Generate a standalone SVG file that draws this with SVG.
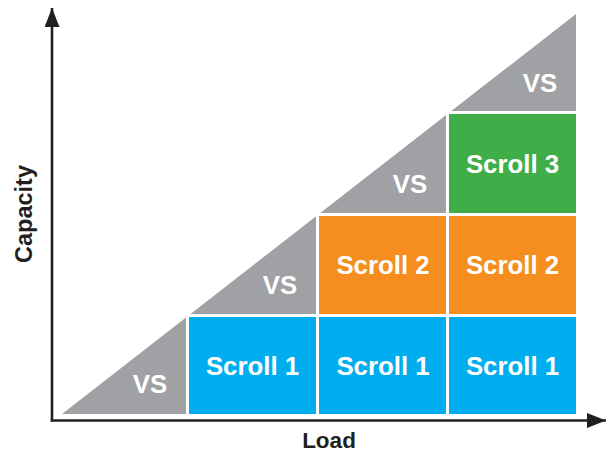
<svg xmlns="http://www.w3.org/2000/svg" width="608" height="454" viewBox="0 0 608 454">
  <style>
    .cell { stroke: #ffffff; stroke-width: 3; }
    .blue { fill: #00aeef; }
    .orange { fill: #f68e1f; }
    .green { fill: #3fae49; }
    .wedge { fill: #a0a1a5; }
    .lbl { font-family: "Liberation Sans", Arial, sans-serif; font-weight: bold; font-size: 25.8px; fill: #ffffff; text-anchor: middle; }
    .axis-lbl { font-family: "Liberation Sans", Arial, sans-serif; font-weight: bold; font-size: 22.5px; fill: #231f20; text-anchor: middle; }
    .axis { stroke: #231f20; stroke-width: 2.6; fill: none; }
  </style>
  <defs>
    <marker id="arrow" markerUnits="userSpaceOnUse" markerWidth="20" markerHeight="16" refX="19" refY="7.5" orient="auto">
      <polygon points="0,0 19,7.5 0,15" fill="#231f20"/>
    </marker>
  </defs>

  <rect width="608" height="454" fill="#ffffff"/>

  <!-- grey capacity headroom wedge -->
  <g id="headroom">
    <polygon class="wedge" points="62,414 576,14 576,414"/>
  </g>

  <!-- column 1 -->
  <g id="col1-scroll1">
    <rect class="cell blue" x="187.5" y="315.5" width="130" height="100"/>
    <text class="lbl" x="252.5" y="375">Scroll 1</text>
  </g>

  <!-- column 2 -->
  <g id="col2-scroll1">
    <rect class="cell blue" x="317.5" y="315.5" width="130" height="100"/>
    <text class="lbl" x="383" y="375">Scroll 1</text>
  </g>
  <g id="col2-scroll2">
    <rect class="cell orange" x="317.5" y="214.5" width="130" height="101"/>
    <text class="lbl" x="383" y="274">Scroll 2</text>
  </g>

  <!-- column 3 -->
  <g id="col3-scroll1">
    <rect class="cell blue" x="447.5" y="315.5" width="130" height="100"/>
    <text class="lbl" x="512.5" y="375">Scroll 1</text>
  </g>
  <g id="col3-scroll2">
    <rect class="cell orange" x="447.5" y="214.5" width="130" height="101"/>
    <text class="lbl" x="512.5" y="274">Scroll 2</text>
  </g>
  <g id="col3-scroll3">
    <rect class="cell green" x="447.5" y="112.5" width="130" height="102"/>
    <text class="lbl" x="512.5" y="173">Scroll 3</text>
  </g>

  <!-- VS labels inside the wedge -->
  <g id="vs-labels">
    <text class="lbl" x="150" y="393">VS</text>
    <text class="lbl" x="280" y="294">VS</text>
    <text class="lbl" x="410" y="193">VS</text>
    <text class="lbl" x="540" y="92">VS</text>
  </g>

  <!-- axes -->
  <g id="axes">
    <line class="axis" x1="52" y1="421.5" x2="52" y2="8" marker-end="url(#arrow)"/>
    <line class="axis" x1="50.7" y1="420.5" x2="606" y2="420.5" marker-end="url(#arrow)"/>
  </g>

  <g id="axis-labels">
    <text class="axis-lbl" x="329" y="448">Load</text>
    <text class="axis-lbl" style="font-size:23.5px" transform="translate(32,214) rotate(-90)" x="0" y="0">Capacity</text>
  </g>
</svg>
